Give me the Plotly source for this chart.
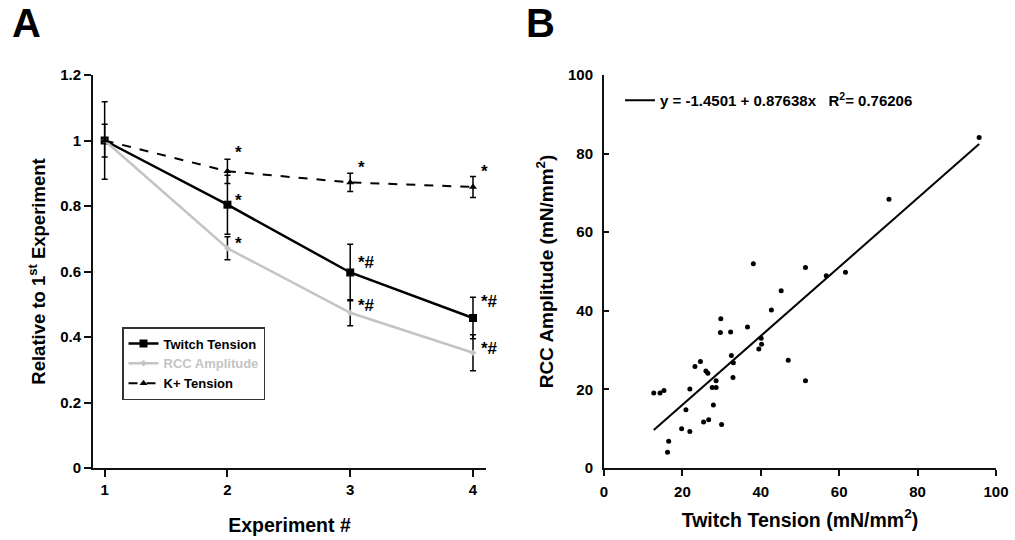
import plotly.graph_objects as go

# ---- Panel A data ----
experiments = [1, 2, 3, 4]
twitch = [1.0, 0.804, 0.597, 0.458]
twitch_err = [0.118, 0.09, 0.086, 0.063]
rcc = [1.0, 0.671, 0.474, 0.352]
rcc_err = [0.0, 0.035, 0.04, 0.055]
k_tension = [1.0, 0.906, 0.872, 0.858]
k_err = [0.05, 0.037, 0.028, 0.032]

# significance labels (x, y-position, text)
sig_x = [2, 2, 2, 3, 3, 3, 4, 4, 4]
sig_y = [0.962, 0.818, 0.684, 0.918, 0.628, 0.497, 0.905, 0.507, 0.364]
sig_text = ["*", "*", "*", "*", "*#", "*#", "*", "*#", "*#"]

# ---- Panel B data ----
twitch_tension = [95.7, 72.7, 38.1, 51.4, 56.7, 61.6, 45.2, 42.7, 29.8, 36.6,
                  29.7, 32.3, 40.1, 40.2, 39.5, 47.0, 32.5, 33.0, 32.9, 51.4,
                  24.6, 23.2, 26.0, 26.5, 28.6, 27.6, 28.6, 21.9, 12.7, 14.3,
                  15.3, 20.9, 27.9, 25.4, 26.7, 30.0, 19.8, 21.9, 16.5, 16.2]
rcc_amplitude = [84.1, 68.4, 52.0, 51.0, 48.9, 49.8, 45.1, 40.2, 38.0, 35.9,
                 34.5, 34.6, 33.0, 31.5, 30.3, 27.4, 28.6, 26.8, 23.0, 22.2,
                 27.1, 25.8, 24.7, 24.1, 22.2, 20.5, 20.5, 20.1, 19.1, 19.1,
                 19.7, 14.8, 16.0, 11.7, 12.3, 11.1, 10.0, 9.3, 6.8, 4.0]
fit_intercept = -1.4501
fit_slope = 0.87638
fit_r2 = 0.76206

FONT = "Liberation Sans, Arial, sans-serif"
GRAY = "#c4c4c4"

# page geometry (px)
W, H = 1015, 540
L, R, T, B = 93, 996, 75, 468
PW, PH = R - L, B - T


def px_x(p):
    return (p - L) / PW


def px_y(p):
    return (B - p) / PH


fig = go.Figure()

fig.add_trace(go.Scatter(
    x=experiments, y=twitch, name="Twitch Tension", mode="lines+markers",
    line=dict(color="black", width=2.5),
    marker=dict(symbol="square", size=8, color="black"),
    error_y=dict(type="data", array=twitch_err, color="black", thickness=1.5, width=3),
    xaxis="x", yaxis="y", legend="legend"))
fig.add_trace(go.Scatter(
    x=experiments, y=rcc, name="<span style='color:#c4c4c4'>RCC Amplitude</span>",
    mode="lines+markers",
    line=dict(color=GRAY, width=2.5),
    marker=dict(symbol="diamond", size=5, color=GRAY),
    error_y=dict(type="data", array=rcc_err, color="black", thickness=1.5, width=3),
    xaxis="x", yaxis="y", legend="legend"))
fig.add_trace(go.Scatter(
    x=experiments, y=k_tension, name="K+ Tension", mode="lines+markers",
    line=dict(color="black", width=2, dash="dash"),
    marker=dict(symbol="triangle-up", size=7, color="black"),
    error_y=dict(type="data", array=k_err, color="black", thickness=1.5, width=3),
    xaxis="x", yaxis="y", legend="legend"))

for sx, sy, st in zip(sig_x, sig_y, sig_text):
    fig.add_annotation(x=sx, y=sy, xref="x", yref="y", text=st, showarrow=False,
                       xanchor="left", yanchor="middle", xshift=6,
                       font=dict(family=FONT, size=17, color="black", weight="bold"))

# Panel B
fig.add_trace(go.Scatter(
    x=twitch_tension, y=rcc_amplitude, mode="markers", showlegend=False,
    marker=dict(symbol="circle", size=5, color="black"),
    xaxis="x2", yaxis="y2"))
xmin, xmax = min(twitch_tension), max(twitch_tension)
fig.add_trace(go.Scatter(
    x=[xmin, xmax], y=[fit_intercept + fit_slope * xmin, fit_intercept + fit_slope * xmax],
    mode="lines", line=dict(color="black", width=2),
    name=f"y = {fit_intercept} + {fit_slope}x   R<sup>2</sup>= {fit_r2}",
    xaxis="x2", yaxis="y2", legend="legend2"))

tickfont = dict(family=FONT, size=15, color="black", weight="bold")
base = dict(showline=True, linecolor="#111", linewidth=2, tickcolor="#111",
            showgrid=False, zeroline=False, tickfont=tickfont, automargin=False)
axA = dict(ticks="outside", ticklen=7, tickwidth=2, **base)
axBx = dict(ticks="outside", ticklen=6, tickwidth=1.5, ticklabelstandoff=3, **base)
axBy = dict(ticks="inside", ticklen=5, tickwidth=1.5, ticklabelstandoff=6, **base)

fig.update_layout(
    width=W, height=H, paper_bgcolor="white", plot_bgcolor="white",
    margin=dict(l=L, r=W - R, t=T, b=H - B, autoexpand=False),
    xaxis=dict(domain=[0, px_x(486)], range=[0.905, 4.106],
               tickvals=[1, 2, 3, 4], anchor="y",
               title=dict(text="Experiment #", standoff=21,
                          font=dict(family=FONT, size=19.5, color="black", weight="bold")),
               **axA),
    yaxis=dict(domain=[0, 1], range=[0, 1.2], tickvals=[0, 0.2, 0.4, 0.6, 0.8, 1, 1.2],
               ticktext=["0", "0.2", "0.4", "0.6", "0.8", "1", "1.2"], anchor="x",
               title=dict(text="Relative to 1<sup>st</sup> Experiment", standoff=10,
                          font=dict(family=FONT, size=18.5, color="black", weight="bold")),
               **axA),
    xaxis2=dict(domain=[px_x(604), 1], range=[0, 100],
                tickvals=[0, 20, 40, 60, 80, 100], anchor="y2",
                title=dict(text="Twitch Tension (mN/mm<sup>2</sup>)", standoff=14,
                           font=dict(family=FONT, size=19.5, color="black", weight="bold")),
                **axBx),
    yaxis2=dict(domain=[0, 1], range=[0, 100], tickvals=[0, 20, 40, 60, 80, 100], anchor="x2",
                title=dict(text="RCC Amplitude (mN/mm<sup>2</sup>)", standoff=9,
                           font=dict(family=FONT, size=19, color="black", weight="bold")),
                **axBy),
    legend=dict(x=px_x(122), y=px_y(327), xanchor="left", yanchor="top",
                bgcolor="white", bordercolor="#333", borderwidth=1.5,
                font=dict(family=FONT, size=13, color="black", weight="bold"),
                tracegroupgap=0, itemwidth=30),
    legend2=dict(x=px_x(620), y=px_y(84), xanchor="left", yanchor="top",
                 bgcolor="rgba(0,0,0,0)", borderwidth=0,
                 font=dict(family=FONT, size=15, color="black", weight="bold")),
    showlegend=True,
)

fig.add_annotation(x=px_x(10), y=px_y(23), xref="paper", yref="paper", text="A",
                   showarrow=False, xanchor="left", yanchor="middle",
                   font=dict(family=FONT, size=40, color="black", weight="bold"))
fig.add_annotation(x=px_x(524), y=px_y(23), xref="paper", yref="paper", text="B",
                   showarrow=False, xanchor="left", yanchor="middle",
                   font=dict(family=FONT, size=40, color="black", weight="bold"))

fig.write_html("out.html", config={"displayModeBar": False},
               post_script="document.body.style.margin='0';")
